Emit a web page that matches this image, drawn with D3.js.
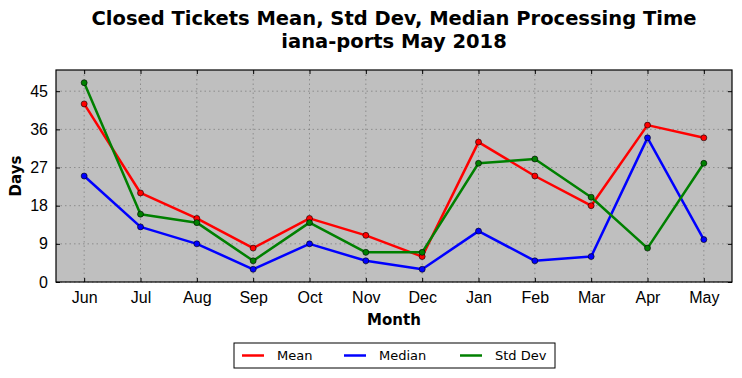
<!DOCTYPE html>
<html>
<head>
  <meta charset="utf-8">
  <style>
    body { margin: 0; background: #fff; }
    svg { font-family: "DejaVu Sans", sans-serif; }
    .grid line { stroke: #808080; stroke-dasharray: 1.5,3; stroke-width: 0.8; }
    .tick text { font-size: 16px; fill: #000; }
  </style>
</head>
<body>
  <svg width="742" height="378"></svg>
  <script src="https://cdn.jsdelivr.net/npm/d3@7"></script>
  <script>
    var months = ["Jun", "Jul", "Aug", "Sep", "Oct", "Nov", "Dec", "Jan", "Feb", "Mar", "Apr", "May"];
    var meanVals = [42, 21, 15, 8, 15, 11, 6, 33, 25, 18, 37, 34];
    var medianVals = [25, 13, 9, 3, 9, 5, 3, 12, 5, 6, 34, 10];
    var stdVals = [47, 16, 14, 5, 14, 7, 7, 28, 29, 20, 8, 28];
    var yTicks = [0, 9, 18, 27, 36, 45];

    var series = [
      {name: "Mean", color: "#ff0000", values: meanVals},
      {name: "Median", color: "#0000ff", values: medianVals},
      {name: "Std Dev", color: "#008000", values: stdVals}
    ];

    var svg = d3.select("svg"),
        margin = {top: 70, right: 10, bottom: 96, left: 56},
        width = 742 - margin.left - margin.right,
        height = 378 - margin.top - margin.bottom;

    var x = d3.scalePoint().domain(months).range([0, width]).padding(0.5),
        y = d3.scaleLinear().domain([0, 50]).range([height, 0]);

    var g = svg.append("g")
        .attr("transform", "translate(" + margin.left + "," + margin.top + ")");

    g.append("rect")
        .attr("width", width)
        .attr("height", height)
        .attr("fill", "#bfbfbf");

    // dotted grid
    var grid = g.append("g").attr("class", "grid");
    grid.selectAll(".gx").data(months).enter().append("line")
        .attr("x1", function(d) { return x(d); })
        .attr("x2", function(d) { return x(d); })
        .attr("y1", 0).attr("y2", height);
    grid.selectAll(".gy").data(yTicks).enter().append("line")
        .attr("x1", 0).attr("x2", width)
        .attr("y1", function(d) { return y(d); })
        .attr("y2", function(d) { return y(d); });

    // axes with inward ticks (classic style)
    g.append("g")
        .attr("transform", "translate(0," + height + ")")
        .call(d3.axisBottom(x).tickSizeInner(-4).tickSizeOuter(0).tickPadding(10))
        .call(function(s) { s.select(".domain").remove(); });
    g.append("g")
        .call(d3.axisTop(x).tickSizeInner(-4).tickSizeOuter(0).tickFormat(""))
        .call(function(s) { s.select(".domain").remove(); });
    g.append("g")
        .call(d3.axisLeft(y).tickValues(yTicks).tickSizeInner(-4).tickSizeOuter(0).tickPadding(8))
        .call(function(s) { s.select(".domain").remove(); });
    g.append("g")
        .attr("transform", "translate(" + width + ",0)")
        .call(d3.axisRight(y).tickValues(yTicks).tickSizeInner(-4).tickSizeOuter(0).tickFormat(""))
        .call(function(s) { s.select(".domain").remove(); });

    var line = d3.line()
        .x(function(d, i) { return x(months[i]); })
        .y(function(d) { return y(d); });

    series.forEach(function(s) {
      g.append("path")
          .datum(s.values)
          .attr("fill", "none")
          .attr("stroke", s.color)
          .attr("stroke-width", 2.5)
          .attr("stroke-linejoin", "round")
          .attr("d", line);
    });
    series.forEach(function(s) {
      g.selectAll(null).data(s.values).enter().append("circle")
          .attr("cx", function(d, i) { return x(months[i]); })
          .attr("cy", function(d) { return y(d); })
          .attr("r", 3)
          .attr("fill", s.color)
          .attr("stroke", "#000")
          .attr("stroke-width", 0.6);
    });

    g.append("rect")
        .attr("width", width)
        .attr("height", height)
        .attr("fill", "none")
        .attr("stroke", "#000")
        .attr("stroke-width", 1.2);

    // titles
    var cx = margin.left + width / 2;
    svg.append("text").attr("x", cx).attr("y", 25)
        .attr("text-anchor", "middle").attr("font-size", "19.5px").attr("font-weight", "bold")
        .text("Closed Tickets Mean, Std Dev, Median Processing Time");
    svg.append("text").attr("x", cx).attr("y", 48)
        .attr("text-anchor", "middle").attr("font-size", "19.5px").attr("font-weight", "bold")
        .text("iana-ports May 2018");

    svg.append("text").attr("x", cx).attr("y", 325)
        .attr("text-anchor", "middle").attr("font-size", "15px").attr("font-weight", "bold")
        .text("Month");
    svg.append("text")
        .attr("transform", "translate(21," + (margin.top + height / 2) + ") rotate(-90)")
        .attr("text-anchor", "middle").attr("font-size", "15px").attr("font-weight", "bold")
        .text("Days");

    // legend
    var legend = svg.append("g").attr("transform", "translate(234,343)");
    legend.append("rect")
        .attr("width", 321).attr("height", 25)
        .attr("fill", "#fff").attr("stroke", "#000").attr("stroke-width", 1);
    var offsets = [8, 110, 226];
    series.forEach(function(s, i) {
      var item = legend.append("g").attr("transform", "translate(" + offsets[i] + ",12.5)");
      item.append("line").attr("x1", 0).attr("x2", 22)
          .attr("stroke", s.color).attr("stroke-width", 2.5);
      item.append("text").attr("x", 35).attr("y", 4.5)
          .attr("font-size", "13px").text(s.name);
    });
  </script>
</body>
</html>
